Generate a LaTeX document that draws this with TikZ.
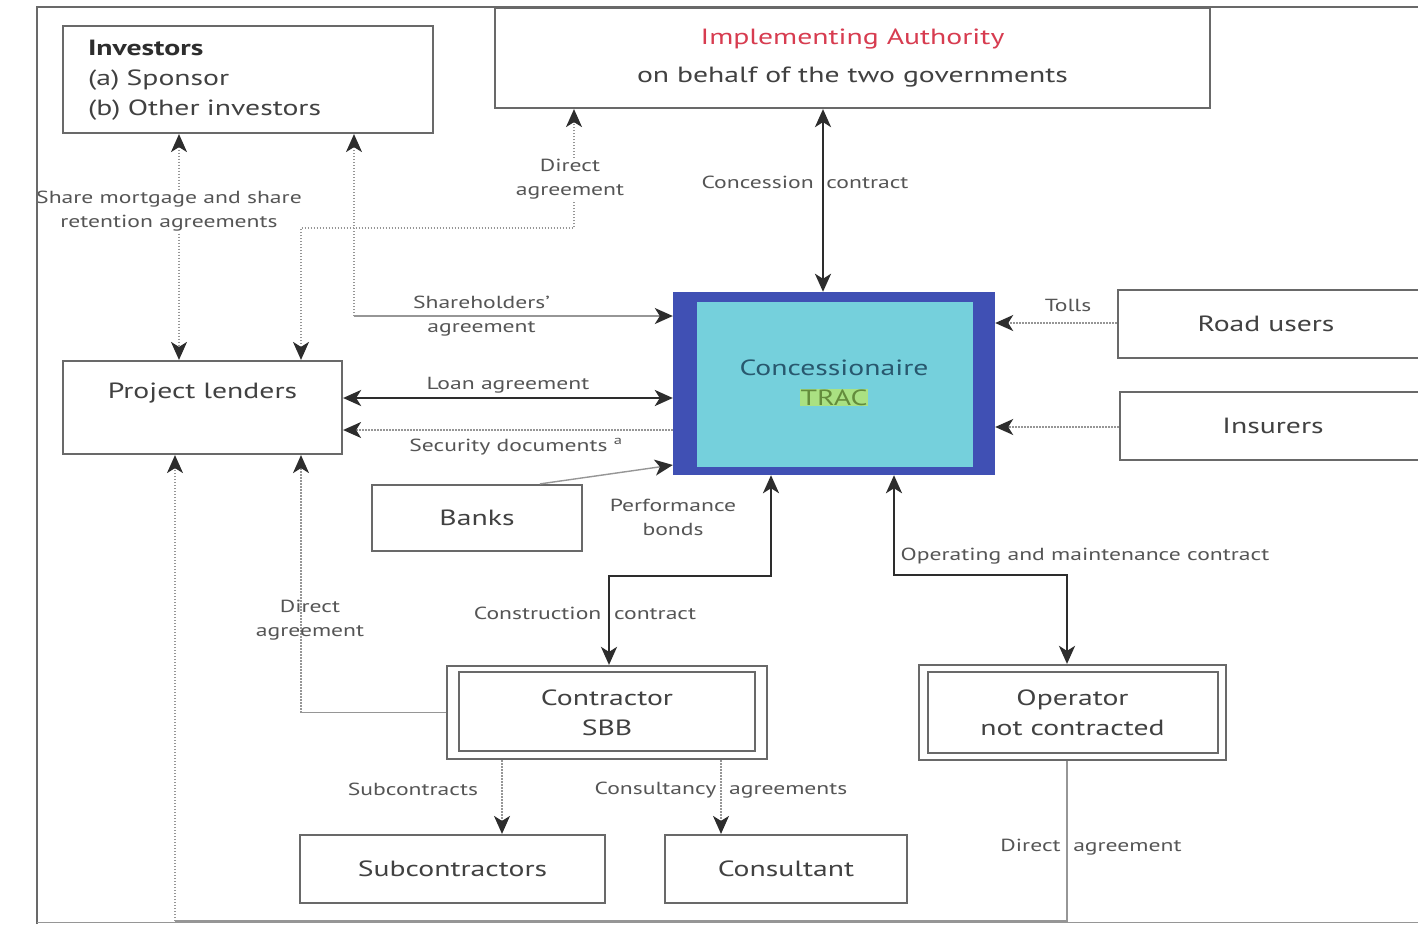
\documentclass[tikz,border=0pt]{standalone}
\usepackage{fontspec}
\setmainfont[FakeStretch=1.35]{PT Sans}
\usetikzlibrary{arrows.meta}
\definecolor{boxgray}{RGB}{105,105,105}
\definecolor{boxtext}{RGB}{65,65,65}
\definecolor{lbltext}{RGB}{85,85,85}
\definecolor{darkline}{RGB}{45,45,45}
\definecolor{lightline}{RGB}{150,150,150}
\definecolor{iared}{RGB}{215,60,80}
\definecolor{trblue}{RGB}{64,80,180}
\definecolor{trcyan}{RGB}{117,208,220}
\definecolor{trteal}{RGB}{40,88,110}
\definecolor{trgreen}{RGB}{170,225,130}
\definecolor{trolive}{RGB}{100,140,60}

\begin{document}
\begin{tikzpicture}[x=1pt,y=-1pt,>={Stealth[length=18pt,width=16pt,inset=5pt,color=darkline]}]
      \tikzstyle{box}=[draw=boxgray,line width=2.2pt,text=boxtext,font=\fontsize{22}{30}\selectfont,align=center,inner sep=0pt]
      \tikzstyle{lbl}=[text=lbltext,font=\fontsize{17.5}{24}\selectfont,align=center]
      \tikzstyle{heavy}=[draw=darkline,line width=2.6pt]
      \tikzstyle{light}=[draw=lightline,line width=1.4pt]
      \tikzstyle{dots}=[light,dash pattern=on 1.5pt off 1.5pt]
      \useasboundingbox[fill=white] (0,0) rectangle (1418,924);

      \node[box,align=left,text width=320pt,inner xsep=25pt,minimum height=107pt] (investors) at (248,79.5)
        {\textbf{\color{darkline}Investors}\\(a)\ Sponsor\\(b)\ Other investors\\[-26pt]\mbox{}};
      \node[box,minimum width=715pt,minimum height=100pt] (ia) at (852.5,58)
        {{\color{iared}Implementing Authority}\\[8pt]on behalf of the two governments};
      \node[box,minimum width=279pt,text height=37pt,text depth=56pt] (lenders) at (202.5,407.5) {Project lenders};
      \node[fill=trblue,minimum width=322pt,minimum height=183pt,inner sep=0pt] (conc) at (834,383.5) {};
      \fill[trcyan] (697,302) rectangle (973,467);
      \node[box,draw=none,text=trteal] (conctext) at (834,383)
        {Concessionaire\\{\fboxsep=1pt\colorbox{trgreen}{\color{trolive}TRAC}}};
      \node[box,minimum width=324pt,minimum height=68pt] (roadusers) at (1280,324) {\hspace*{-28pt}Road users};
      \node[box,minimum width=320pt,minimum height=68pt] (insurers) at (1280,426) {\hspace*{-14pt}Insurers};
      \node[box,minimum width=210pt,minimum height=66pt] (banks) at (477,518) {Banks};
      \node[box,minimum width=320pt,minimum height=93pt] (contractor) at (607,712.5) {Contractor\\SBB};
      \draw[boxgray,line width=2.2pt] ([xshift=13pt,yshift=-7pt]contractor.north west) rectangle ([xshift=-13pt,yshift=9pt]contractor.south east);
      \node[box,minimum width=307pt,minimum height=95pt] (operator) at (1072.5,712.5) {Operator\\not contracted};
      \draw[boxgray,line width=2.2pt] ([xshift=10pt,yshift=-8pt]operator.north west) rectangle ([xshift=-9pt,yshift=8pt]operator.south east);
      \node[box,minimum width=305pt,minimum height=68pt] (subcon) at (452.5,869) {Subcontractors};
      \node[box,minimum width=242pt,minimum height=68pt] (consultant) at (786,869) {Consultant};

      \coordinate (shturn) at (354,316);
      \coordinate (dcturn) at (301,712.5);
      \coordinate (doturn) at (175,921);

      \draw[dots,<->] (investors.south -| 179,0) -- node[lbl,fill=white,pos=.34,xshift=-10pt,inner sep=1pt]
        {Share mortgage and share\\retention agreements} (lenders.north -| 179,0);
      \draw[light,<-] (conc.west |- shturn) -- node[lbl,pos=.6]{Shareholders'\\agreement} (shturn);
      \draw[dots,->] (shturn) -- (investors.south -| shturn);
      \draw[dots,<->] (lenders.north -| 301,0) |- (574,228) -- node[lbl,fill=white,pos=.41,xshift=-4pt,inner sep=1pt]
        {Direct\\agreement} (ia.south -| 574,0);
      \draw[heavy,<->] (ia.south -| 823,0) -- node[lbl,pos=.4,xshift=-18pt]{Concession\ \ contract} (conc.north -| 823,0);
      \draw[heavy,<->] (lenders.east |- 0,398) -- node[lbl,above,inner sep=3pt]{Loan agreement} (conc.west |- 0,398);
      \draw[dots,->] (conc.west |- 0,430) -- node[lbl,below,xshift=8pt,yshift=-5pt,inner sep=3pt]{Security documents \textsuperscript{a}} (lenders.east |- 0,430);
      \draw[light,->] (banks.north -| 540,0) -- (conc.west |- 0,465);
      \node[lbl] (perf) at (673,517) {Performance\\bonds};
      \draw[heavy,<->] (conc.south -| 771,0) |- (609,576) -- node[lbl,pos=.42,xshift=-24pt]{Construction\ \ contract} (contractor.north -| 609,0);
      \draw[heavy,<->] (conc.south -| 894,0) |- node[lbl,pos=.5,anchor=south west,yshift=6pt,xshift=2pt]
        {Operating and maintenance contract} (1067,575) -- (operator.north -| 1067,0);
      \draw[dots,->] (roadusers.west |- 0,323) -- node[lbl,above,xshift=12pt,yshift=7pt,inner sep=4pt]{Tolls} (conc.east |- 0,323);
      \draw[dots,->] (insurers.west |- 0,427) -- (conc.east |- 0,427);
      \draw[light] (contractor.west) -- (dcturn);
      \draw[dots,->] (dcturn) -- node[lbl,pos=.36,xshift=9pt]{Direct\\agreement} (lenders.south -| dcturn);
      \draw[dots,->] (contractor.south -| 502,0) -- node[lbl,left,pos=.39,xshift=-20pt]{Subcontracts} (subcon.north -| 502,0);
      \draw[dots,->] (contractor.south -| 721,0) -- node[lbl,pos=.4]{Consultancy\ \ agreements} (consultant.north -| 721,0);
      \draw[light] (operator.south -| 1067,0) |- node[lbl,pos=.27,xshift=24pt]{Direct\ \ agreement} (doturn);
      \draw[dots,->] (doturn) -- (lenders.south -| doturn);

      \draw[boxgray,line width=2pt] (37,924) -- (37,7) -- (1418,7);
      \draw[lightline,line width=1pt] (37,922) -- (1418,922);
\end{tikzpicture}
\end{document}
